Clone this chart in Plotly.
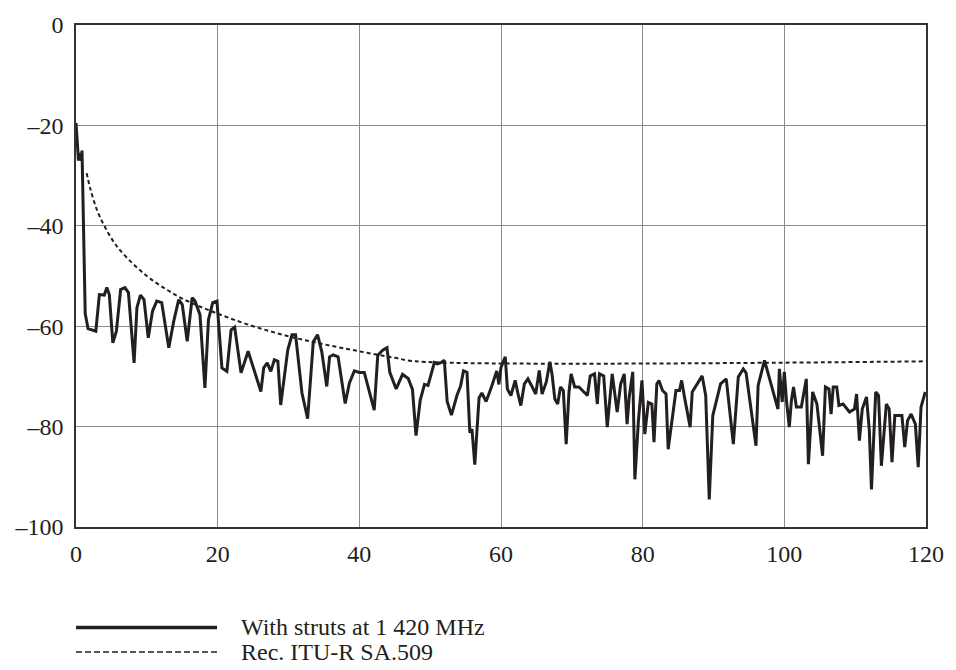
import plotly.graph_objects as go

# Measured pattern with struts at 1 420 MHz: off-axis angle (degrees) and relative gain (dB)
strut_angle = [
    0.0, 0.35, 0.5, 0.75, 0.85, 1.3, 1.7, 2.1, 2.8, 3.3, 4.0, 4.35, 4.7, 5.2, 5.7,
    6.3, 6.9, 7.4, 8.2, 8.6, 9.1, 9.6, 10.2, 10.8, 11.4, 12.1, 13.1, 13.8, 14.5,
    15.0, 15.7, 16.4, 16.8, 17.5, 18.2, 18.7, 19.3, 19.9, 20.6, 21.3, 21.9, 22.4,
    23.3, 24.3, 25.2, 26.1, 26.5, 27.0, 27.5, 28.0, 28.5, 28.9, 29.9, 30.5, 31.0,
    31.9, 32.7, 33.5, 34.1, 34.7, 35.4, 35.8, 36.3, 37.0, 38.0, 38.6, 39.3, 40.0,
    40.7, 42.1, 42.6, 43.3, 43.9, 44.3, 45.2, 46.1, 46.9, 47.5, 48.0, 48.6, 49.2,
    49.7, 50.6, 51.0, 51.6, 52.0, 52.4, 53.0, 53.8, 54.3, 54.7, 55.2, 55.6, 55.9,
    56.3, 56.9, 57.3, 57.9, 58.7, 59.4, 59.7, 60.0, 60.6, 60.9, 61.4, 62.0, 62.4,
    62.8, 63.3, 63.8, 64.3, 64.9, 65.4, 65.8, 66.4, 66.9, 67.2, 67.6, 68.0, 68.4,
    68.8, 69.2, 69.6, 69.9, 70.4, 71.0, 71.7, 72.2, 72.6, 73.2, 73.6, 73.9, 74.5,
    75.0, 75.7, 76.4, 76.9, 77.4, 77.8, 78.1, 78.6, 78.9, 79.4, 79.9, 80.3, 80.8,
    81.3, 81.6, 82.0, 82.3, 82.8, 83.3, 83.6, 84.1, 84.7, 85.2, 85.5, 85.9, 86.7,
    87.0, 87.6, 88.4, 88.9, 89.4, 89.9, 90.6, 91.0, 91.8, 92.8, 93.5, 94.2, 94.6,
    96.0, 96.3, 97.2, 99.1, 99.3, 99.7, 100.0, 100.3, 100.7, 101.0, 101.3, 101.7,
    102.4, 103.1, 103.4, 104.0, 104.6, 105.4, 105.8, 106.3, 106.6, 106.9, 107.4,
    107.7, 108.3, 109.2, 109.9, 110.2, 110.6, 111.0, 111.6, 112.0, 112.3, 112.9,
    113.3, 113.7, 114.4, 114.8, 115.2, 115.6, 116.2, 116.6, 117.0, 117.4, 117.9,
    118.5, 118.9, 119.3, 119.9,
]
strut_gain = [
    -19.5, -27.0, -25.5, -27.0, -25.0, -57.5, -60.5, -60.7, -61.0, -53.7, -53.8,
    -52.3, -53.7, -63.3, -61.0, -52.7, -52.3, -53.3, -67.3, -56.3, -53.8, -54.7,
    -62.3, -57.0, -55.0, -55.3, -64.3, -59.0, -54.7, -55.7, -63.0, -54.3, -55.0,
    -57.7, -72.3, -58.7, -55.3, -55.0, -68.3, -69.0, -60.7, -60.2, -69.3, -65.0,
    -69.0, -73.0, -68.3, -67.3, -69.0, -66.7, -67.0, -75.7, -64.7, -61.7, -61.7,
    -73.3, -78.4, -63.1, -61.7, -65.1, -72.0, -66.1, -65.7, -66.1, -75.4, -71.3,
    -68.9, -69.2, -69.2, -76.7, -65.8, -64.8, -64.3, -69.2, -72.5, -69.6, -70.4,
    -72.6, -81.8, -74.7, -71.6, -71.8, -67.2, -67.5, -67.2, -66.8, -75.0, -77.7,
    -73.7, -71.9, -68.9, -69.2, -81.2, -80.5, -87.6, -74.3, -73.3, -75.0, -71.9,
    -68.9, -71.6, -68.2, -66.1, -72.5, -73.8, -70.8, -73.5, -75.8, -71.5, -70.5,
    -71.8, -73.5, -68.8, -73.5, -71.1, -67.1, -69.5, -74.5, -75.5, -72.1, -72.8,
    -83.5, -73.1, -69.5, -72.1, -72.1, -73.1, -73.8, -69.9, -69.5, -75.5, -69.5,
    -69.9, -80.1, -69.5, -77.1, -71.5, -69.5, -79.5, -74.1, -69.1, -90.5, -78.8,
    -70.8, -81.5, -75.2, -75.5, -83.1, -71.5, -70.8, -72.8, -73.5, -84.5, -79.1,
    -72.8, -72.8, -70.8, -74.1, -80.1, -73.1, -71.8, -69.9, -73.8, -94.5, -77.8,
    -73.8, -71.5, -70.5, -83.5, -70.1, -68.5, -69.3, -83.8, -71.8, -66.8, -76.5,
    -68.5, -75.1, -69.1, -74.8, -80.1, -74.8, -72.1, -76.1, -76.1, -70.5, -87.5,
    -73.1, -75.5, -85.8, -72.1, -72.5, -77.5, -72.1, -72.1, -75.8, -75.5, -77.1,
    -76.5, -73.5, -82.8, -76.5, -74.1, -80.8, -92.5, -73.1, -73.8, -87.8, -75.5,
    -76.5, -87.1, -77.8, -77.8, -77.8, -84.1, -78.8, -77.5, -79.5, -88.1, -76.1,
    -73.1,
]

# Reference envelope, Rec. ITU-R SA.509 (relative to peak gain)
ref_angle = [1.5, 2, 3, 4, 5, 6, 8, 10, 12, 15, 20, 25, 30, 35, 40, 45, 48, 120]
ref_gain = [-29.5, -32.5, -37.0, -40.0, -42.5, -44.5, -47.5, -50.0, -52.0, -54.5,
            -57.5, -60.0, -62.0, -63.6, -65.0, -66.3, -67.0, -67.0]

x_ticks = [0, 20, 40, 60, 80, 100, 120]
y_ticks = [0, -20, -40, -60, -80, -100]
y_tick_text = ["0", "\u201320", "\u201340", "\u201360", "\u201380", "\u2013100"]

legend_labels = ["With struts at 1 420 MHz", "Rec. ITU-R SA.509"]

FONT = "Liberation Serif, Times New Roman, serif"
INK = "#231f20"

fig = go.Figure()
fig.add_trace(go.Scatter(
    x=strut_angle, y=strut_gain, mode="lines",
    line=dict(color=INK, width=3), name=legend_labels[0],
))
fig.add_trace(go.Scatter(
    x=ref_angle, y=ref_gain, mode="lines", line_shape="spline",
    line=dict(color=INK, width=2, dash="4px,3px"), name=legend_labels[1],
))

axis_common = dict(
    showgrid=True, gridcolor="#8a8a8a", gridwidth=1,
    showline=True, linecolor="#333333", linewidth=1.5, mirror=True,
    zeroline=False, ticks="",
    tickfont=dict(family=FONT, size=24, color=INK),
)
fig.update_xaxes(range=[0, 120], tickvals=x_ticks, ticklabelstandoff=4,
                 **axis_common)
fig.update_yaxes(range=[-100, 0], tickvals=y_ticks, ticktext=y_tick_text,
                 ticklabelstandoff=6, **axis_common)

# Legend drawn beneath the plot area: sample line + caption for each series
legend_rows = [(-0.200, dict(color=INK, width=3.5)),
               (-0.249, dict(color=INK, width=1.6, dash="6px,3px"))]
for (ypos, style), label in zip(legend_rows, legend_labels):
    fig.add_shape(type="line", xref="paper", yref="paper",
                  x0=0.0, x1=0.166, y0=ypos, y1=ypos, line=style)
    fig.add_annotation(xref="paper", yref="paper", x=0.192, y=ypos,
                       text=label, showarrow=False, xanchor="left",
                       yanchor="middle",
                       font=dict(family=FONT, size=24, color=INK))

fig.update_layout(
    width=956, height=670,
    margin=dict(l=76, r=24, t=18, b=143),
    paper_bgcolor="white", plot_bgcolor="white",
    showlegend=False,
)

fig.write_html("out.html")
